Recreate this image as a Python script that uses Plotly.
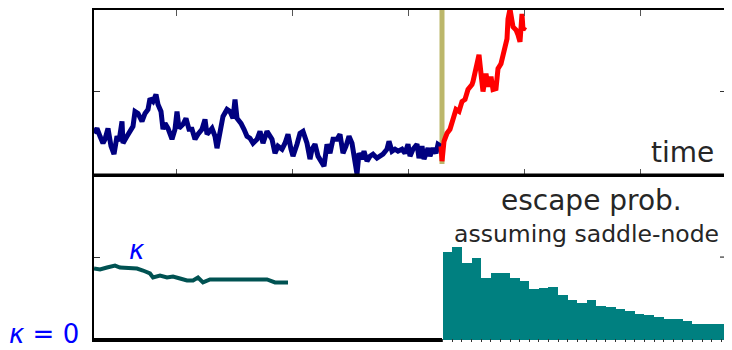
import plotly.graph_objects as go

# ---- data ----
# top panel: trajectory before the switch (navy) and after the switch (red)
blue_t = [0, 3, 6, 9, 11, 14, 17, 20, 23, 25, 28, 29, 33, 36, 39, 41, 44, 48, 51, 54,
          56, 59, 62, 64, 67, 69, 71, 74, 78, 81, 83, 85, 89, 92, 95, 98, 101, 104, 108, 111,
          113, 118, 121, 123, 126, 129, 133, 136, 139, 141, 143, 147, 150, 153, 156, 159, 163, 166, 169, 173,
          178, 181, 184, 188, 191, 194, 197, 199, 203, 206, 209, 213, 216, 218, 221, 224, 227, 230, 233, 236,
          239, 243, 246, 249, 252, 255, 258, 260, 263, 265, 268, 270, 273, 276, 279, 283, 286, 289, 293, 295,
          298, 301, 304, 308, 311, 314, 316, 319, 323, 325, 328, 330, 334, 336, 339, 342, 344, 347]
blue_v = [42, 47, 39, 32, 36, 47, 29, 21, 39, 34, 54, 32, 39, 44, 49, 64, 62, 54, 62, 66,
          77, 74, 81, 71, 64, 46, 52, 47, 36, 46, 64, 47, 51, 57, 46, 46, 36, 41, 46, 56,
          41, 47, 39, 27, 42, 59, 66, 64, 57, 76, 57, 52, 46, 39, 37, 32, 36, 44, 32, 44,
          36, 22, 29, 26, 32, 41, 26, 19, 31, 42, 44, 32, 16, 26, 31, 19, 14, 9, 31, 22,
          36, 36, 41, 22, 29, 39, 32, 17, 1, 22, 16, 24, 14, 19, 21, 17, 19, 21, 26, 34,
          24, 26, 24, 26, 22, 31, 19, 26, 31, 17, 29, 16, 27, 19, 27, 22, 31, 29]
red_t = [347, 348, 350, 353, 356, 359, 362, 365, 368, 371, 374, 378, 379, 383, 385, 387, 389, 392,
         394, 397, 399, 402, 404, 407, 409, 411, 413, 414, 416, 419, 422, 424, 426, 428, 429, 431]
red_v = [29, 14, 34, 42, 46, 57, 66, 64, 74, 76, 86, 91, 94, 112, 121, 102, 84, 102,
         89, 99, 86, 87, 107, 112, 119, 127, 137, 157, 167, 149, 146, 141, 134, 162, 146, 149]
switch_t = 348
switch_v = [11, 167]
top_ticks_t = [82, 198, 314, 430, 546]
top_tick_v = [84]

# bottom panel: kappa estimate, kappa = 0 baseline and escape probability histogram
kappa_t = [0, 6, 13, 21, 26, 31, 36, 43, 49, 56, 59, 66, 73, 79, 86, 93, 99, 104, 109, 116,
           126, 139, 153, 163, 173, 181, 189, 194]
kappa_v = [72, 71, 73, 75, 73, 73, 72, 72, 70, 67, 63, 65, 63, 64, 62, 60, 60, 63, 58, 61,
           61, 61, 60, 60, 61, 58, 58, 58]
kappa0_t = [0, 348]
kappa0_v = [0, 0]
bar_centers = [353.5, 363.1, 372.7, 382.3, 392.0, 401.6, 411.2, 420.8, 430.4, 440.0,
               449.6, 459.2, 468.8, 478.4, 488.0, 497.6, 507.2, 516.8, 526.4, 536.0,
               545.6, 555.2, 564.8, 574.4, 584.0, 593.6, 603.2, 612.8, 622.4, 632.0]
bar_heights = [89, 93.3, 77, 83, 62.3, 67.3, 67.3, 62.7, 59, 51,
               52.7, 53.7, 45.3, 40, 37.7, 40.7, 34.7, 33, 31, 29,
               26.3, 24.7, 22.7, 20.7, 21, 19.3, 16.3, 16.3, 15.7, 15.7]
bar_width = 9.61
bottom_tick_w = [83.5]

# ---- figure ----
W, H = 732, 350
OFF = 8  # the page is shown with the browser's default body margin


def px(x):
    return (x - OFF) / W


def py(y):
    return min(1.0, 1 - (y - OFF) / H)


L, R_top = px(94), px(726)
R_bot = 1.0
bot_range_max = (W + OFF) - 94  # 1 data unit per pixel
top_dom = [py(174), py(8)]
bot_dom = [py(342), py(174)]

NAVY = "#000080"
RED = "#ff0000"
OLIVE = "#bcb76b"
KCOL = "#005252"
TEAL = "#008080"
TXT = "#262626"
BLUE_T = "#0000ff"
FONT = "DejaVu Sans"

fig = go.Figure()

fig.add_trace(go.Scatter(x=[switch_t, switch_t], y=switch_v, mode="lines",
                         line=dict(color=OLIVE, width=5), xaxis="x", yaxis="y",
                         hoverinfo="skip"))
fig.add_trace(go.Scatter(x=blue_t, y=blue_v, mode="lines",
                         line=dict(color=NAVY, width=5), xaxis="x", yaxis="y"))
fig.add_trace(go.Scatter(x=red_t, y=red_v, mode="lines",
                         line=dict(color=RED, width=5), xaxis="x", yaxis="y"))

fig.add_trace(go.Bar(x=bar_centers, y=bar_heights, width=bar_width,
                     marker=dict(color=TEAL, line=dict(width=0)),
                     xaxis="x2", yaxis="y2"))
fig.add_trace(go.Scatter(x=kappa0_t, y=kappa0_v, mode="lines",
                         line=dict(color="black", width=4), xaxis="x2", yaxis="y2"))
fig.add_trace(go.Scatter(x=kappa_t, y=kappa_v, mode="lines",
                         line=dict(color=KCOL, width=4), xaxis="x2", yaxis="y2"))

bar_edges = [c - bar_width / 2 for c in bar_centers] + [bar_centers[-1] + bar_width / 2]

axis_common = dict(showgrid=False, zeroline=False, showticklabels=False)

fig.update_layout(
    width=W, height=H, autosize=False,
    margin=dict(l=0, r=0, t=0, b=0, pad=0),
    paper_bgcolor="white", plot_bgcolor="white",
    showlegend=False, bargap=0,
    xaxis=dict(domain=[L, R_top], range=[0, 632], anchor="y",
               showline=True, linecolor="black", linewidth=1.5, mirror="ticks",
               ticks="inside", ticklen=6, tickwidth=1.2, tickcolor="#555555",
               tickvals=top_ticks_t, **axis_common),
    yaxis=dict(domain=top_dom, range=[0, 166], anchor="x",
               showline=True, linecolor="black", linewidth=1.5, mirror="ticks",
               ticks="inside", ticklen=6, tickwidth=1.2, tickcolor="#333333",
               tickvals=top_tick_v, **axis_common),
    xaxis2=dict(domain=[L, R_bot], range=[0, bot_range_max], anchor="y2",
                showline=False, ticks="inside", ticklen=3, tickwidth=1.2,
                tickcolor="#333333", tickvals=bar_edges, **axis_common),
    xaxis3=dict(overlaying="x2", range=[0, bot_range_max], anchor="y2", side="top",
                showline=False, ticks="inside", ticklen=6, tickwidth=1.2,
                tickcolor="#555555", tickvals=top_ticks_t, **axis_common),
    yaxis2=dict(domain=bot_dom, range=[-2, 166], anchor="x2",
                showline=True, linecolor="black", linewidth=1.5, mirror=False,
                ticks="inside", ticklen=6, tickwidth=1.2, tickcolor="#333333",
                tickvals=bottom_tick_w, **axis_common),
)

# panel separator and the right frame of the lower panel
fig.add_shape(type="line", xref="paper", yref="paper",
              x0=L, x1=R_top, y0=py(174), y1=py(174),
              line=dict(color="black", width=3))
fig.add_shape(type="line", xref="paper", yref="paper", layer="below",
              x0=R_top, x1=R_top, y0=py(342), y1=py(174),
              line=dict(color="black", width=1.5))
fig.add_shape(type="line", xref="paper", yref="y2", layer="below",
              x0=R_top - 6 / W, x1=R_top, y0=bottom_tick_w[0], y1=bottom_tick_w[0],
              line=dict(color="#333333", width=1.2))


def ann(text, x, y, size, color, xanchor="center"):
    fig.add_annotation(text=text, xref="paper", yref="paper", x=px(x), y=py(y),
                       xanchor=xanchor, yanchor="middle", showarrow=False,
                       font=dict(family=FONT, size=size, color=color))


ann("time", 716, 151.5, 28, TXT, xanchor="right")
ann("escape prob.", 591, 200, 28, TXT)
ann("assuming saddle-node", 586, 233, 23.5, TXT)
ann("<i>κ</i>", 136.5, 249, 26, BLUE_T)
ann("<i>κ</i> = 0", 7, 333.5, 26, BLUE_T, xanchor="left")

fig.write_html("out.html")
